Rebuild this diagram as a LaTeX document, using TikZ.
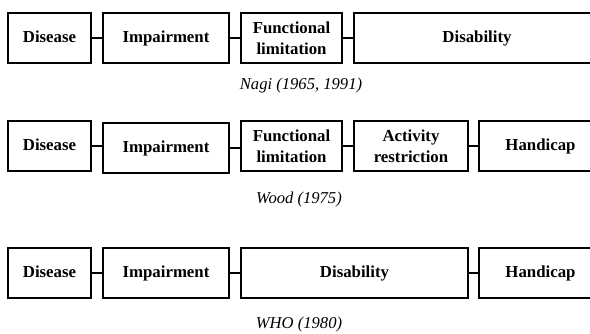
\documentclass[tikz,border=0pt]{standalone}
\usepackage{fontspec}
\setmainfont{Liberation Serif}
\begin{document}
\begin{tikzpicture}[x=1pt,y=-1pt,
  box/.style={draw,line width=1.6pt,minimum height=50pt,inner sep=0pt,align=center,
    font=\fontsize{16.8}{20.5}\selectfont\bfseries},
  single/.style={box,text height=11.6pt,text depth=3.4pt},
  link/.style={line width=1.3pt},
  caption/.style={font=\fontsize{16.6}{20}\selectfont\itshape}]

\useasboundingbox (0,0) rectangle (590,333);

% Nagi
\node[single,minimum width=83pt]  (nDis)  at (49.5,38) {Disease};
\node[single,minimum width=126pt] (nImp)  at (166,38)  {Impairment};
\node[box,minimum width=101pt]    (nFun)  at (291.5,38) {Functional\\limitation};
\node[single,minimum width=246pt] (nDisa) at (477,38)  {Disability};
\draw[link] (nDis) -- (nImp);
\draw[link] (nImp) -- (nFun);
\draw[link] (nFun) -- (nDisa);
\node[caption] (nagi) at (301,86) {Nagi (1965, 1991)};

% Wood
\node[single,minimum width=83pt]  (wDis)  at (49.5,146) {Disease};
\node[single,minimum width=126pt] (wImp)  at (166,148)  {Impairment};
\node[box,minimum width=101pt]    (wFun)  at (291.5,146) {Functional\\limitation};
\node[box,minimum width=114pt]    (wAct)  at (411,146)  {Activity\\restriction};
\node[single,minimum width=123pt] (wHan)  at (540.5,146) {Handicap};
\draw[link] (wDis.east) -- (wDis.east -| wImp.west);
\draw[link] (wImp.east) -- (wImp.east -| wFun.west);
\draw[link] (wFun) -- (wAct);
\draw[link] (wAct) -- (wHan);
\node[caption] (wood) at (299,200) {Wood (1975)};

% WHO
\node[single,minimum width=83pt]  (hDis)  at (49.5,273) {Disease};
\node[single,minimum width=126pt] (hImp)  at (166,273)  {Impairment};
\node[single,minimum width=227pt] (hDisa) at (354.5,273) {Disability};
\node[single,minimum width=123pt] (hHan)  at (540.5,273) {Handicap};
\draw[link] (hDis) -- (hImp);
\draw[link] (hImp) -- (hDisa);
\draw[link] (hDisa) -- (hHan);
\node[caption] (who) at (299,325) {WHO (1980)};

\end{tikzpicture}
\end{document}
